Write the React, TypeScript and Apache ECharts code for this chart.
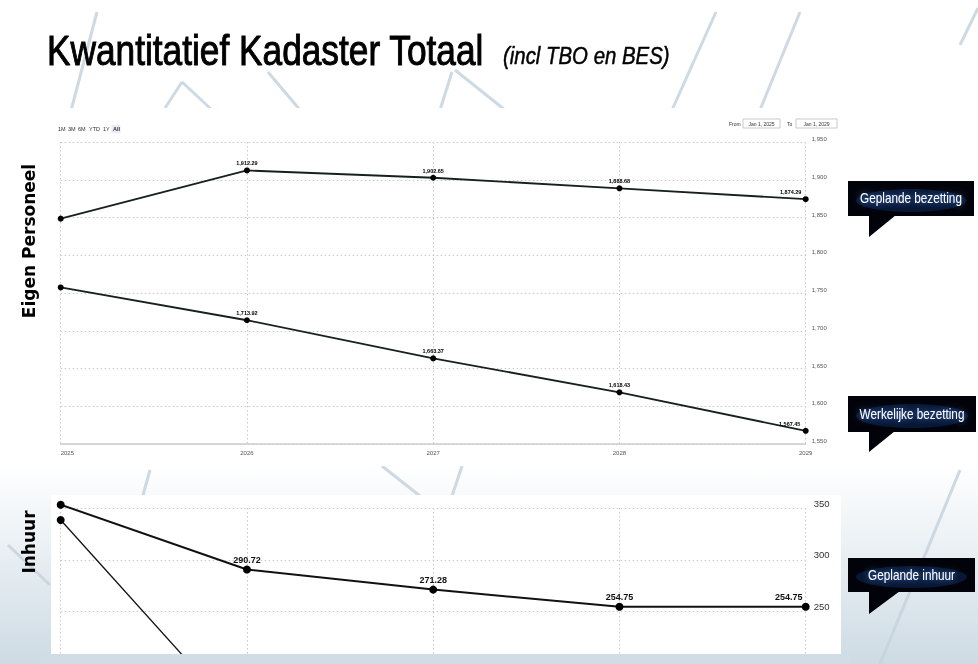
import React, { useEffect, useRef } from "react";
import * as echarts from "echarts";

// ---- data ----
const years = ["2025", "2026", "2027", "2028", "2029"];
const geplandeBezetting = [1848.5, 1912.29, 1902.65, 1888.68, 1874.29];
const werkelijkeBezetting = [1757.4, 1713.92, 1663.37, 1618.43, 1567.45];
const geplandeInhuur = [353.2, 290.72, 271.28, 254.75, 254.75];
const werkelijkeInhuur: (number | null)[] = [338.4, 139, null, null, null];
const bezettingAxis = { min: 1550, max: 1950, interval: 50 };
const inhuurAxis = { min: 200, max: 350, interval: 50 };
const rangeButtons = ["1M", "3M", "6M", "YTD", "1Y", "All"];
const rangeFrom = "Jan 1, 2025";
const rangeTo = "Jan 1, 2029";
const title = "Kwantitatief Kadaster Totaal";
const subtitle = "(incl TBO en BES)";
const topAxisTitle = "Eigen Personeel";
const bottomAxisTitle = "Inhuur";
const callouts = ["Geplande bezetting", "Werkelijke bezetting", "Geplande inhuur"];

const SANS = "'Liberation Sans', Arial, sans-serif";

const fmtComma = (v: number) =>
  v.toLocaleString("en-US", { minimumFractionDigits: 2, maximumFractionDigits: 2 });

function buildData(values: (number | null)[], lastOffset: number) {
  return values.map((v, i) => {
    const item: any = { value: v };
    if (i === 0) item.label = { show: false };
    if (i === values.length - 1) item.label = { offset: [lastOffset, 0] };
    return item;
  });
}

function callout(text: string, x: number, y: number, w: number, h: number, tailW: number, tailH: number) {
  return {
    type: "group",
    z: 50,
    children: [
      { type: "rect", shape: { x, y, width: w, height: h }, style: { fill: "#02030a" } },
      {
        type: "ellipse",
        shape: { cx: x + w / 2, cy: y + h / 2 + 2, rx: w / 2 - 8, ry: h / 2 - 6 },
        style: { fill: "#0b2147", opacity: 0.7 },
      },
      {
        type: "polygon",
        shape: { points: [[x + 21, y + h - 1], [x + 21, y + h + tailH], [x + 21 + tailW, y + h - 1]] },
        style: { fill: "#02030a" },
      },
      {
        type: "text",
        x: x + w / 2,
        y: y + h / 2,
        scaleX: 0.84,
        style: {
          text,
          fill: "#ffffff",
          font: `14px ${SANS}`,
          align: "center",
          verticalAlign: "middle",
          textShadowColor: "#3a7ad8",
          textShadowBlur: 6,
        },
      },
    ],
  };
}

function stripe(x1: number, y1: number, x2: number, y2: number, w = 3) {
  return {
    type: "line",
    z: -20,
    shape: { x1, y1, x2, y2 },
    style: { stroke: "#c6d4de", lineWidth: w, opacity: 0.85 },
  };
}

export default function App() {
  const ref = useRef<HTMLDivElement>(null);

  useEffect(() => {
    if (!ref.current) return;
    const chart = echarts.init(ref.current, undefined, { renderer: "svg" });

    const btnX = [58, 68, 78, 89, 103, 113];
    const graphic: any[] = [
      {
        type: "rect",
        z: -30,
        shape: { x: 0, y: 0, width: 978, height: 664 },
        style: {
          fill: new echarts.graphic.LinearGradient(0, 0, 0, 1, [
            { offset: 0, color: "#ffffff" },
            { offset: 0.7, color: "#ffffff" },
            { offset: 1, color: "#cddbe4" },
          ]),
        },
      },
      stripe(97, 12, 58, 160),
      stripe(150, 470, 143, 495),
      stripe(165, 108, 182, 82),
      stripe(182, 82, 212, 110),
      stripe(268, 72, 300, 110),
      stripe(452, 72, 440, 110),
      stripe(455, 70, 505, 110),
      stripe(382, 466, 420, 496),
      stripe(462, 466, 452, 496),
      stripe(716, 12, 672, 110),
      stripe(800, 12, 760, 110),
      stripe(978, 8, 960, 45),
      stripe(960, 470, 880, 664),
      stripe(8, 545, 50, 585),
      stripe(378, 655, 374, 664),
      stripe(718, 655, 734, 664),
      {
        type: "rect",
        z: -10,
        shape: { x: 42, y: 108, width: 800, height: 358 },
        style: { fill: "#ffffff" },
      },
      {
        type: "rect",
        z: -10,
        shape: { x: 51, y: 495, width: 790, height: 159 },
        style: { fill: "#ffffff" },
      },
      {
        type: "rect",
        z: 100,
        shape: { x: 40, y: 654, width: 810, height: 12 },
        style: { fill: "#d0dde6" },
      },
      {
        type: "text",
        x: 47,
        y: 71,
        scaleX: 0.82,
        z: 20,
        style: {
          text: title,
          fill: "#000000",
          stroke: "#000000",
          lineWidth: 1,
          font: `43px ${SANS}`,
          verticalAlign: "bottom",
        },
      },
      {
        type: "text",
        x: 503,
        y: 68,
        scaleX: 0.85,
        z: 20,
        style: {
          text: subtitle,
          fill: "#000000",
          stroke: "#000000",
          lineWidth: 0.5,
          font: `italic 24px ${SANS}`,
          verticalAlign: "bottom",
        },
      },
      {
        type: "text",
        x: 29,
        y: 241,
        rotation: Math.PI / 2,
        z: 20,
        style: {
          text: topAxisTitle,
          fill: "#000000",
          font: "bold 17px 'DejaVu Sans', sans-serif",
          align: "center",
          verticalAlign: "middle",
        },
      },
      {
        type: "text",
        x: 29,
        y: 542,
        rotation: Math.PI / 2,
        z: 20,
        style: {
          text: bottomAxisTitle,
          fill: "#000000",
          font: "bold 17px 'DejaVu Sans', sans-serif",
          align: "center",
          verticalAlign: "middle",
        },
      },
      {
        type: "rect",
        z: 5,
        shape: { x: 111.5, y: 125, width: 9, height: 8 },
        style: { fill: "#e6ebf5" },
      },
      ...rangeButtons.map((b, i) => ({
        type: "text",
        x: btnX[i],
        y: 129,
        z: 6,
        style: {
          text: b,
          fill: "#333333",
          font: `${i === rangeButtons.length - 1 ? "bold " : ""}5.5px ${SANS}`,
          verticalAlign: "middle",
        },
      })),
      {
        type: "text",
        x: 729,
        y: 123.5,
        z: 6,
        style: { text: "From", fill: "#333", font: `5px ${SANS}`, verticalAlign: "middle" },
      },
      {
        type: "rect",
        z: 5,
        shape: { x: 743, y: 119, width: 37, height: 9 },
        style: { fill: "#fff", stroke: "#bbbbbb", lineWidth: 0.8 },
      },
      {
        type: "text",
        x: 761.5,
        y: 123.5,
        z: 6,
        style: { text: rangeFrom, fill: "#333", font: `5px ${SANS}`, align: "center", verticalAlign: "middle" },
      },
      {
        type: "text",
        x: 787,
        y: 123.5,
        z: 6,
        style: { text: "To", fill: "#333", font: `5px ${SANS}`, verticalAlign: "middle" },
      },
      {
        type: "rect",
        z: 5,
        shape: { x: 796, y: 119, width: 41, height: 9 },
        style: { fill: "#fff", stroke: "#bbbbbb", lineWidth: 0.8 },
      },
      {
        type: "text",
        x: 816.5,
        y: 123.5,
        z: 6,
        style: { text: rangeTo, fill: "#333", font: `5px ${SANS}`, align: "center", verticalAlign: "middle" },
      },
      callout(callouts[0], 848, 181, 126, 35, 27, 21),
      callout(callouts[1], 848, 396, 128, 36, 26, 20),
      callout(callouts[2], 848, 558, 127, 34, 31, 22),
    ];

    const dotted = { show: true, lineStyle: { color: "#c8c8c8", type: [1.5, 2.5] as any, width: 1 } };

    chart.setOption({
      animation: false,
      backgroundColor: "transparent",
      graphic,
      grid: [
        { left: 60.7, top: 142, width: 745, height: 302 },
        { left: 60.7, top: 508, width: 745, height: 155.5 },
      ],
      xAxis: [
        {
          type: "category",
          gridIndex: 0,
          data: years,
          boundaryGap: false,
          axisLine: { show: true, lineStyle: { color: "#cccccc", width: 1.5 } },
          axisTick: { show: false },
          axisLabel: {
            color: "#555",
            fontSize: 6,
            fontFamily: SANS,
            margin: 6,
            alignMinLabel: "left",
          },
          splitLine: dotted,
        },
        {
          type: "category",
          gridIndex: 1,
          data: years,
          boundaryGap: false,
          axisLine: { show: false },
          axisTick: { show: false },
          axisLabel: { show: false },
          splitLine: dotted,
        },
      ],
      yAxis: [
        {
          type: "value",
          gridIndex: 0,
          position: "right",
          min: bezettingAxis.min,
          max: bezettingAxis.max,
          interval: bezettingAxis.interval,
          axisLine: { show: false },
          axisTick: { show: false },
          axisLabel: {
            color: "#555",
            fontSize: 6,
            fontFamily: SANS,
            margin: 6,
            verticalAlign: "bottom",
            formatter: (v: number) => v.toLocaleString("en-US"),
          },
          splitLine: dotted,
        },
        {
          type: "value",
          gridIndex: 1,
          position: "right",
          min: inhuurAxis.min,
          max: inhuurAxis.max,
          interval: inhuurAxis.interval,
          axisLine: { show: false },
          axisTick: { show: false },
          axisLabel: {
            color: "#333",
            fontSize: 9.5,
            fontFamily: SANS,
            margin: 8,
            verticalAlign: "bottom",
          },
          splitLine: dotted,
        },
      ],
      series: [
        {
          name: callouts[0],
          type: "line",
          xAxisIndex: 0,
          yAxisIndex: 0,
          data: buildData(geplandeBezetting, -15),
          symbol: "circle",
          symbolSize: 6,
          lineStyle: { color: "#15201f", width: 1.8 },
          itemStyle: { color: "#000" },
          label: {
            show: true,
            position: "top",
            distance: 1,
            fontSize: 5.5,
            fontWeight: "bold",
            fontFamily: SANS,
            color: "#000",
            formatter: (p: any) => fmtComma(p.value),
          },
        },
        {
          name: callouts[1],
          type: "line",
          xAxisIndex: 0,
          yAxisIndex: 0,
          data: buildData(werkelijkeBezetting, -16),
          symbol: "circle",
          symbolSize: 6,
          lineStyle: { color: "#15201f", width: 1.8 },
          itemStyle: { color: "#000" },
          label: {
            show: true,
            position: "top",
            distance: 1,
            fontSize: 5.5,
            fontWeight: "bold",
            fontFamily: SANS,
            color: "#000",
            formatter: (p: any) => fmtComma(p.value),
          },
        },
        {
          name: callouts[2],
          type: "line",
          xAxisIndex: 1,
          yAxisIndex: 1,
          data: buildData(geplandeInhuur, -17),
          symbol: "circle",
          symbolSize: 8,
          clip: false,
          lineStyle: { color: "#111", width: 2 },
          itemStyle: { color: "#000" },
          label: {
            show: true,
            position: "top",
            distance: 1,
            fontSize: 9,
            fontWeight: "bold",
            fontFamily: SANS,
            color: "#111",
            formatter: (p: any) => p.value.toFixed(2),
          },
        },
        {
          name: "Werkelijke inhuur",
          type: "line",
          xAxisIndex: 1,
          yAxisIndex: 1,
          data: werkelijkeInhuur,
          symbol: "circle",
          symbolSize: 8,
          lineStyle: { color: "#111", width: 1.3 },
          itemStyle: { color: "#000" },
          label: { show: false },
          clip: true,
        },
      ],
    });

    return () => chart.dispose();
  }, []);

  return (
    <div
      ref={ref}
      style={{ position: "fixed", left: 0, top: 0, width: 978, height: 664 }}
    />
  );
}
